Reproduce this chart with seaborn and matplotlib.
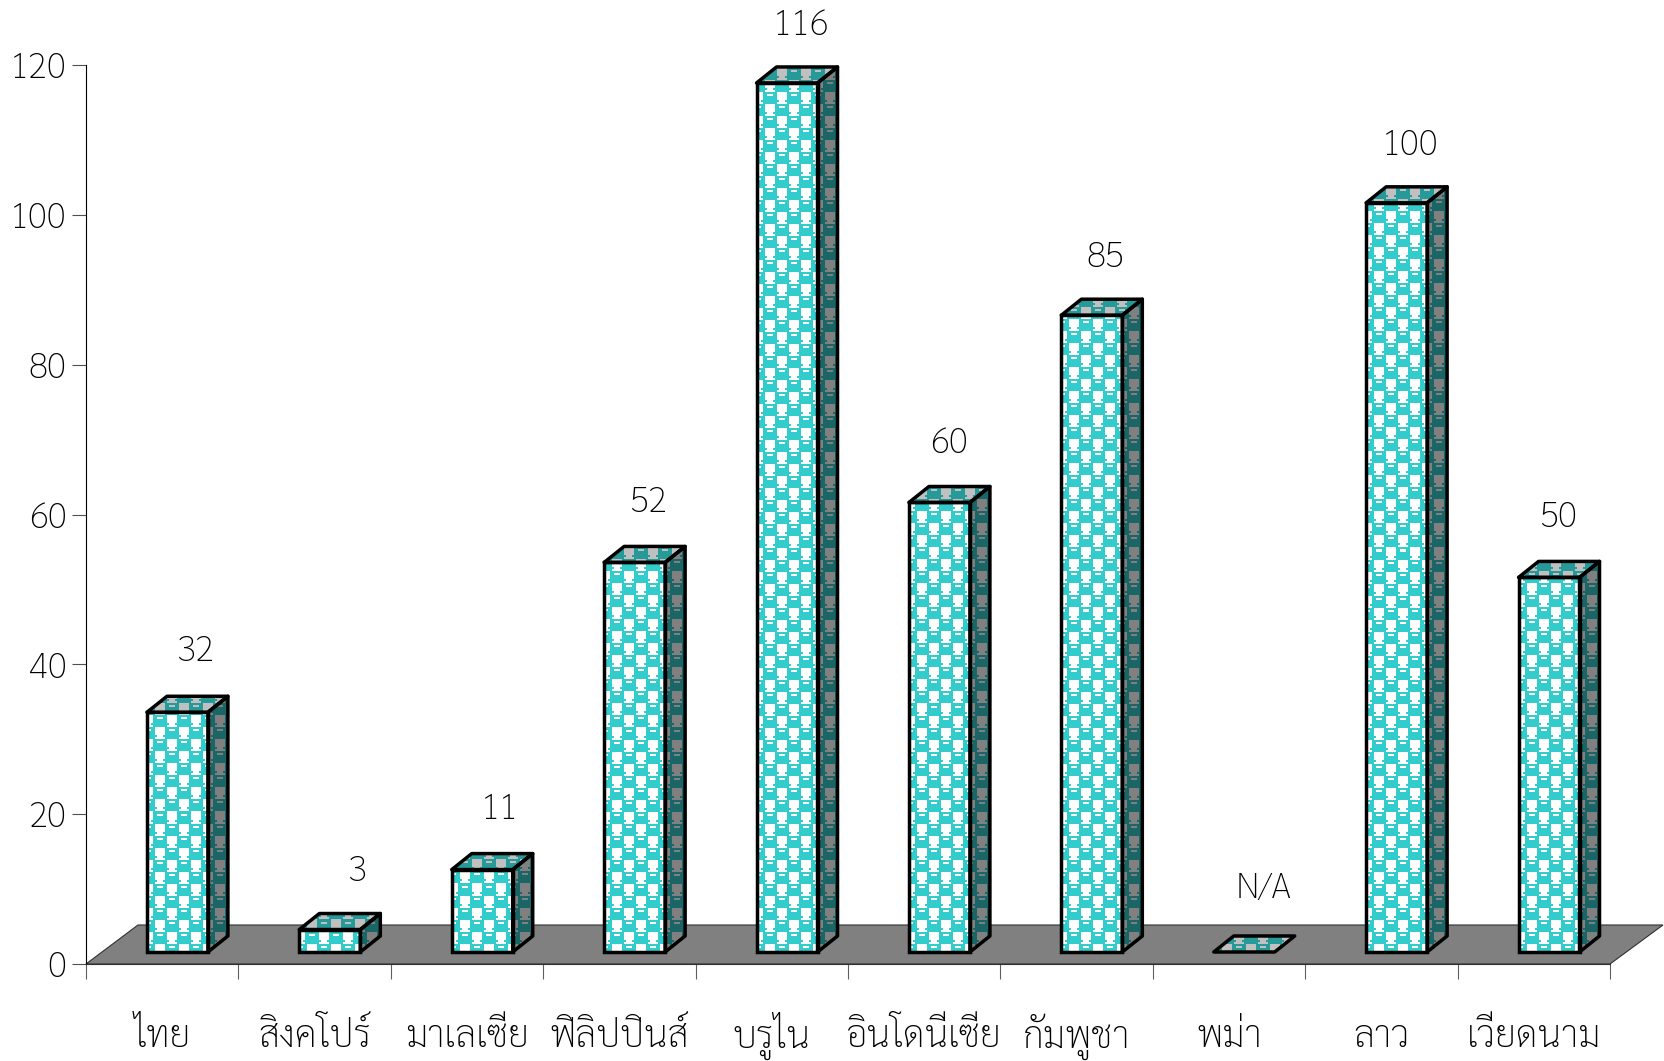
import numpy as np
import pandas as pd
import seaborn as sns
import matplotlib.pyplot as plt
from matplotlib.patches import Polygon


countries = ['ไทย', 'สิงคโปร์', 'มาเลเซีย', 'ฟิลิปปินส์', 'บรูไน', 'อินโดนีเซีย', 'กัมพูชา', 'พม่า', 'ลาว', 'เวียดนาม']
values = [32, 3, 11, 52, 116, 60, 85, 0, 100, 50]
value_labels = ['32', '3', '11', '52', '116', '60', '85', 'N/A', '100', '50']
yticks = [0, 20, 40, 60, 80, 100, 120]

# nudge of each value label from the top left corner of its bar, in pixels
label_dx = [48, 57, 48, 44, 44, 40, 44, 50, 44, 39]
label_dy = [61, 58, 60, 60, 57, 59, 57, 63, 57, 60]

PX_X = 152.4  # pixels per category
PX_Y = 7.49   # pixels per y unit

BAR_SHIFT = 0.1
BAR_WIDTH = 0.4
BASE = 12 / PX_Y
DEPTH_X = 20 / PX_X
DEPTH_Y = 16 / PX_Y
EDGE = 2.5

half = ['000111111100',
        '000110001100',
        '000111111100',
        '000111111100',
        '001111111110',
        '000111111100']
half = np.array([[int(c) for c in row] for row in half])
tile = np.vstack([half, np.roll(half, 6, axis=1)])


def face_image(ax, clip, x0, base, ink, paper, ny, nx=4):
    # repeat the 12x12 tile, 24 pixels per tile on screen
    img = np.tile(tile, (ny, nx))
    rgb = np.where(img[..., None] == 1, np.array(ink), np.array(paper)) / 255
    im = ax.imshow(rgb, extent=(x0, x0 + nx * 24 / PX_X, base - 4 / PX_Y, base - 4 / PX_Y + ny * 24 / PX_Y),
                   aspect='auto', interpolation='nearest', origin='upper', zorder=2)
    im.set_clip_path(clip)


sns.set_theme(style='white')
plt.rcParams['font.family'] = ['Sarabun', 'Noto Sans Thai', 'DejaVu Sans']
plt.rcParams['font.weight'] = 'light'

fig = plt.figure(figsize=(16.65, 10.61), dpi=100)
ax = fig.add_axes([86 / 1665, 1 - 964 / 1061, (1610 - 86) / 1665, (964 - 65) / 1061])
ax.patch.set_alpha(0)

data = pd.DataFrame({'country': countries, 'value': values})
sns.barplot(data=data, x='country', y='value', color='white', edgecolor='black', linewidth=EDGE,
            width=BAR_WIDTH, errorbar=None, ax=ax, zorder=3, fill=False)

# grey floor of the 3D chart
floor = Polygon([(-0.5, 0), (-0.5 + 52 / PX_X, 39 / PX_Y), (9.5 + 53 / PX_X, 39 / PX_Y), (9.5, 0)],
                closed=True, facecolor='#808080', edgecolor='#303030', linewidth=0.8, clip_on=False, zorder=1)
ax.add_patch(floor)

for i, bar in enumerate(list(ax.patches)[:len(values)]):
    x0 = bar.get_x() + BAR_SHIFT
    x1 = x0 + BAR_WIDTH
    h = bar.get_height()
    bar.set_x(x0)
    bar.set_y(BASE)
    y1 = BASE + h
    ny = int(h * PX_Y / 24) + 3

    top = Polygon([(x0, y1), (x0 + DEPTH_X, y1 + DEPTH_Y), (x1 + DEPTH_X, y1 + DEPTH_Y), (x1, y1)], closed=True,
                  facecolor='none', edgecolor='black', linewidth=EDGE, joinstyle='round', zorder=3)
    ax.add_patch(top)
    face_image(ax, top, x0, BASE, (38, 153, 153), (192, 192, 192), ny)

    if h > 0:
        front_clip = Polygon([(x0, BASE), (x0, y1), (x1, y1), (x1, BASE)], closed=True,
                             facecolor='none', edgecolor='none', zorder=2)
        ax.add_patch(front_clip)
        face_image(ax, front_clip, x0, BASE, (51, 204, 204), (255, 255, 255), ny)
        side = Polygon([(x1, BASE), (x1, y1), (x1 + DEPTH_X, y1 + DEPTH_Y), (x1 + DEPTH_X, BASE + DEPTH_Y)], closed=True,
                       facecolor='none', edgecolor='black', linewidth=EDGE, joinstyle='round', zorder=3)
        ax.add_patch(side)
        face_image(ax, side, x0, BASE, (26, 102, 102), (128, 128, 128), ny)
    else:
        bar.set_visible(False)

    ax.annotate(value_labels[i], xy=(x0, y1), xytext=(label_dx[i], label_dy[i]), textcoords='offset pixels',
                ha='center', va='center', fontsize=25.5, color='black', annotation_clip=False)

ax.set_xlim(-0.5, 9.5)
ax.set_ylim(0, 120)
ax.set_xlabel('')
ax.set_ylabel('')

ax.set_yticks(yticks)
ax.set_xticks(np.arange(-0.5, 10, 1), labels=[])
ax.set_xticks(np.arange(10), labels=countries, minor=True)
ax.tick_params(axis='y', left=True, length=10, width=0.8, color='#505050', pad=4, labelsize=25.5, labelcolor='black')
ax.tick_params(axis='x', which='major', bottom=True, length=10.5, width=0.8, color='#606060')
ax.tick_params(axis='x', which='minor', bottom=False, length=0, pad=60, labelsize=27, labelcolor='black')
for lab in ax.get_xticklabels(minor=True):
    lab.set_verticalalignment('baseline')

sns.despine(ax=ax)
ax.spines['left'].set_color('black')
ax.spines['left'].set_linewidth(0.8)
ax.spines['bottom'].set_color('#303030')
ax.spines['bottom'].set_linewidth(0.8)

fig.savefig('out.png', dpi=100)
